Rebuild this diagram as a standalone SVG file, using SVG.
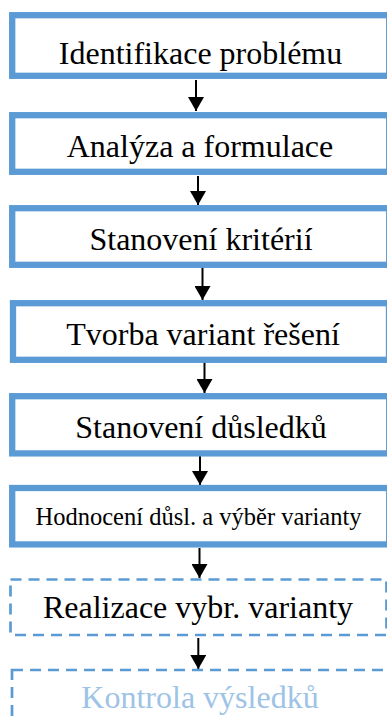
<svg xmlns="http://www.w3.org/2000/svg" width="387" height="720" viewBox="0 0 387 720">
<style>
.box{fill:#ffffff;stroke:#5b9bd5;stroke-width:6.3}
.dbox{fill:#ffffff;stroke:#5b9bd5;stroke-width:2.7;stroke-dasharray:11 7}
.t{font-family:"Liberation Serif","Times New Roman",serif;font-size:32px;fill:#000000;text-anchor:middle}
.s{font-size:24.5px}
.light{fill:#9dc3e6}
.c{stroke:#000000;stroke-width:2;fill:none}
</style>
<defs>
<marker id="ah" markerUnits="userSpaceOnUse" markerWidth="16" markerHeight="16" refX="14" refY="8" orient="auto">
<path d="M0,0 L14,8 L0,16 Z" fill="#000000"/>
</marker>
</defs>
<rect width="387" height="720" fill="#ffffff"/>
<g id="connectors">
<line class="c" x1="196" y1="80" x2="196" y2="111" marker-end="url(#ah)"/>
<line class="c" x1="198" y1="176" x2="198" y2="205" marker-end="url(#ah)"/>
<line class="c" x1="202.5" y1="266" x2="202.5" y2="300" marker-end="url(#ah)"/>
<line class="c" x1="204.5" y1="361" x2="204.5" y2="393" marker-end="url(#ah)"/>
<line class="c" x1="200" y1="455" x2="200" y2="485" marker-end="url(#ah)"/>
<line class="c" x1="199.5" y1="548" x2="199.5" y2="578" marker-end="url(#ah)"/>
<line class="c" x1="198.3" y1="638" x2="198.3" y2="669" marker-end="url(#ah)"/>
</g>
<g id="n1"><rect class="box" x="12.2" y="15.2" width="377" height="60.6"/><text class="t" x="200.5" y="64">Identifikace problému</text></g>
<g id="n2"><rect class="box" x="12.2" y="115.2" width="377" height="56.6"/><text class="t" x="200" y="157">Analýza a formulace</text></g>
<g id="n3"><rect class="box" x="12.2" y="208.2" width="377" height="56.6"/><text class="t" x="201" y="250">Stanovení kritérií</text></g>
<g id="n4"><rect class="box" x="13" y="303.2" width="376" height="56.6"/><text class="t" x="203" y="345">Tvorba variant řešení</text></g>
<g id="n5"><rect class="box" x="12.2" y="396.2" width="377" height="57.2"/><text class="t" x="201" y="438">Stanovení důsledků</text></g>
<g id="n6"><rect class="box" x="12.2" y="488" width="377" height="56.4"/><text class="t s" x="198.5" y="525">Hodnocení důsl. a výběr varianty</text></g>
<g id="n7"><rect class="dbox" x="10.5" y="579.5" width="376" height="55.5"/><text class="t" x="198" y="618">Realizace vybr. varianty</text></g>
<g id="n8"><rect class="dbox" x="12" y="670" width="385" height="70"/><text class="t light" x="200" y="708">Kontrola výsledků</text></g>
</svg>
